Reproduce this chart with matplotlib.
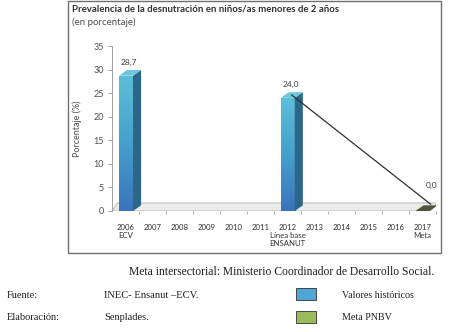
import numpy as np
import matplotlib.pyplot as plt
from matplotlib.patches import Polygon, Rectangle
from matplotlib.colors import LinearSegmentedColormap

years = ['2006', '2007', '2008', '2009', '2010', '2011', '2012', '2013', '2014', '2015', '2016', '2017']
year_notes = ['ECV', '', '', '', '', '', 'Línea base\nENSANUT', '', '', '', '', 'Meta']
hist_years = ['2006', '2012']
hist_values = [28.7, 24.0]
goal_year = '2017'
goal_value = 0.0
value_labels = ['28,7', '24,0', '0,0']
y_ticks = [0, 5, 10, 15, 20, 25, 30, 35]

W, H = 452, 332


def px(x, y):
    return x / W, 1 - y / H


fig = plt.figure(figsize=(W / 100, H / 100), dpi=100)
fig.patches.append(Rectangle(px(68, 253), (441 - 68) / W, 252 / H, transform=fig.transFigure,
                             fill=False, edgecolor='#707070', linewidth=1.0))

ax = fig.add_axes([112 / W, (H - 211) / H, (436 - 112) / W, (211 - 46) / H])
ax.set_xlim(-0.52, 11.5)
ax.set_ylim(0, 35)

bar_w = 0.52
dx, dy = 0.3, 1.2

# floor
x0, x1 = -0.52, 11.3
ax.add_patch(Polygon([(x0, 0), (x1, 0), (x1 + 0.25, 1.7), (x0 + 0.2, 1.7)], closed=True,
                     facecolor='#ececec', edgecolor='#b0b0b0', linewidth=0.6, zorder=1))

cmap = LinearSegmentedColormap.from_list('barg', ['#3a74bc', '#45a0cc', '#5cbfd8'])
grad = np.linspace(0, 1, 100).reshape(-1, 1)
xs = [years.index(y) for y in hist_years]
for xi, v in zip(xs, hist_values):
    front = Rectangle((xi - bar_w / 2, 0), bar_w, v, facecolor='none', edgecolor='none', zorder=3)
    ax.add_patch(front)
    im = ax.imshow(grad, extent=(xi - bar_w / 2, xi + bar_w / 2, 0, v), origin='lower',
                   cmap=cmap, aspect='auto', zorder=3)
    im.set_clip_path(front)
    side = [(xi + bar_w / 2, 0), (xi + bar_w / 2 + dx, dy), (xi + bar_w / 2 + dx, v + dy), (xi + bar_w / 2, v)]
    ax.add_patch(Polygon(side, closed=True, facecolor='#2d6788', edgecolor='none', zorder=3))
    top = [(xi - bar_w / 2, v), (xi + bar_w / 2, v), (xi + bar_w / 2 + dx, v + dy), (xi - bar_w / 2 + dx, v + dy)]
    ax.add_patch(Polygon(top, closed=True, facecolor='#6cc7dd', edgecolor='none', zorder=3))

# goal mark (flat)
gx = years.index(goal_year)
ax.add_patch(Polygon([(gx - bar_w / 2, goal_value), (gx + bar_w / 2, goal_value),
                      (gx + bar_w / 2 + dx, goal_value + dy), (gx - bar_w / 2 + dx, goal_value + dy)],
                     closed=True, facecolor='#4d5638', edgecolor='none', zorder=4))

# trend line from baseline to goal
bx = years.index(hist_years[1])
ax.plot([bx + 0.15, gx + 0.3], [hist_values[1] + dy / 2, goal_value + dy * 1.2], color='#303030',
        linewidth=0.9, zorder=5)

# value labels
for xi, v, lab in zip(xs + [gx], hist_values + [goal_value], value_labels):
    if v > 0:
        ax.text(xi + 0.12, v + 2.1, lab, ha='center', va='bottom', fontsize=6, color='#404040', family='Lato')
    else:
        ax.text(xi + 0.35, v + 4.6, lab, ha='center', va='bottom', fontsize=6, color='#404040', family='Lato')

ax.set_yticks(y_ticks)
ax.set_yticklabels([str(t) for t in y_ticks], fontsize=6.5, color='#505050', family='Lato')
ax.tick_params(axis='y', length=3, width=0.6, color='#909090', pad=3)
ax.set_xticks(range(len(years)))
ax.set_xticklabels([y + ('\n' + n if n else '') for y, n in zip(years, year_notes)],
                   fontsize=5.6, color='#303030', family='Lato', linespacing=1.25)
ax.tick_params(axis='x', length=0, pad=9)
ax.set_xticks(np.arange(len(years)) + 0.5, minor=True)
ax.tick_params(axis='x', which='minor', length=2, width=0.5, color='#909090')
for s in ['top', 'right', 'bottom']:
    ax.spines[s].set_visible(False)
ax.spines['left'].set_color('#a0a0a0')
ax.spines['left'].set_linewidth(0.7)
ax.set_ylabel('Porcentaje (%)', fontsize=6.5, color='#505050', family='Lato', labelpad=8)
ax.patch.set_alpha(0)

# headings
fig.text(*px(72, 9), 'Prevalencia de la desnutración en niños/as menores de 2 años', fontsize=6.95,
         fontweight='bold', color='#303030', family='Lato', va='center', ha='left')
fig.text(*px(72, 22), '(en porcentaje)', fontsize=7, color='#505050', family='Lato', va='center', ha='left')

# notes below
serif = 'Liberation Serif'
fig.text(*px(282, 272), 'Meta intersectorial: Ministerio Coordinador de Desarrollo Social.', fontsize=8.4,
         family=serif, ha='center', va='center', color='#202020')
fig.text(*px(7, 296), 'Fuente:', fontsize=7.5, family=serif, va='center', color='#202020')
fig.text(*px(104, 296), 'INEC- Ensanut \u2013ECV.', fontsize=7.6, family=serif, va='center', color='#202020')
fig.text(*px(7, 318), 'Elaboración:', fontsize=7.5, family=serif, va='center', color='#202020')
fig.text(*px(104, 318), 'Senplades.', fontsize=7.5, family=serif, va='center', color='#202020')
fig.patches.append(Rectangle(px(296, 300), 20 / W, 12 / H, transform=fig.transFigure,
                             facecolor='#4fa6d4', edgecolor='#303030', linewidth=0.6))
fig.patches.append(Rectangle(px(296, 323), 20 / W, 12 / H, transform=fig.transFigure,
                             facecolor='#9bbb59', edgecolor='#303030', linewidth=0.6))
fig.text(*px(342, 295), 'Valores históricos', fontsize=7.2, family=serif, va='center', color='#202020')
fig.text(*px(342, 318), 'Meta PNBV', fontsize=7.2, family=serif, va='center', color='#202020')

fig.savefig('out.png', dpi=100)
